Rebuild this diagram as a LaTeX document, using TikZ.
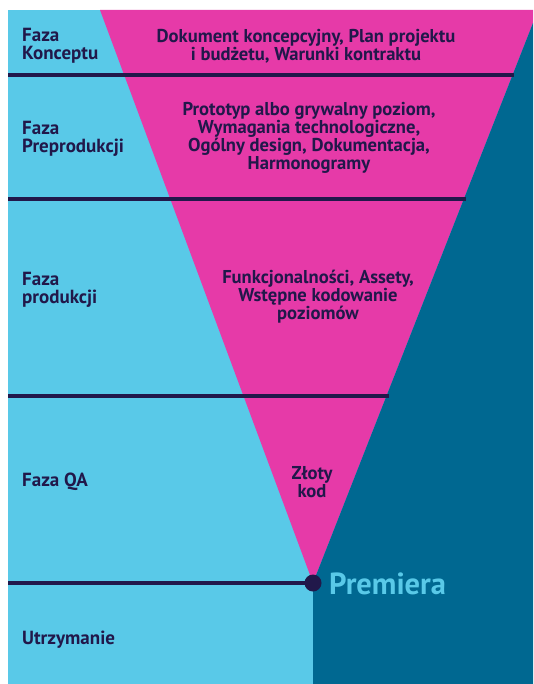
\documentclass[tikz,border=0pt]{standalone}
\usepackage{fontspec}
\setmainfont{PT Sans}
\begin{document}
\begin{tikzpicture}[x=1pt,y=-1pt,
  lbl/.style={font=\bfseries\fontsize{18.6}{18}\selectfont, text=navy, inner sep=0pt},
  leftlbl/.style={lbl, font=\bfseries\fontsize{19}{18.5}\selectfont, anchor=west, align=left},
  midlbl/.style={lbl, align=center},
  phaseline/.style={draw=navy, line width=4pt}]
\definecolor{skyb}{HTML}{59C9E8}
\definecolor{magenta}{HTML}{E63AA8}
\definecolor{teal}{HTML}{006891}
\definecolor{navy}{HTML}{21184A}
\useasboundingbox (0,0) rectangle (533,684);
% background panels
\fill[white] (0,0) rectangle (533,684);
\fill[skyb] (8,10) rectangle (533,684);
\fill[magenta] (100,10) -- (533,10) -- (533,23) -- (313,583) -- cycle;
\fill[teal] (313,583) -- (533,23) -- (533,684) -- (313,684) -- cycle;
% phase separators
\coordinate (l1) at (8,75);  \coordinate (r1) at (514,75);
\coordinate (l2) at (8,199); \coordinate (r2) at (466,199);
\coordinate (l3) at (8,396); \coordinate (r3) at (389,396);
\coordinate (l4) at (8,583);
\node[circle, fill=navy, minimum size=17pt, inner sep=0pt] (rel) at (313,583) {};
\draw[phaseline] (l1) -- (r1);
\draw[phaseline] (l2) -- (r2);
\draw[phaseline] (l3) -- (r3);
\draw[phaseline] (l4) -- (rel.center);
% phase names
\node[leftlbl] (p1) at (22,46) {Faza\\Konceptu};
\node[leftlbl] (p2) at (22,139) {Faza\\Preprodukcji};
\node[leftlbl] (p3) at (22,290) {Faza\\produkcji};
\node[leftlbl] (p4) at (22,482) {Faza QA};
\node[leftlbl] (p5) at (22,640) {Utrzymanie};
% deliverables
\node[midlbl] (d1) at (306,46) {Dokument koncepcyjny, Plan projektu\\i budżetu, Warunki kontraktu};
\node[midlbl] (d2) at (309,138) {Prototyp albo grywalny poziom,\\Wymagania technologiczne,\\Ogólny design, Dokumentacja,\\Harmonogramy};
\node[midlbl] (d3) at (318,297) {Funkcjonalności, Assety,\\Wstępne kodowanie\\poziomów};
\node[midlbl] (d4) at (312,482) {Złoty\\kod};
\node[font=\bfseries\fontsize{30.5}{30}\selectfont, text=skyb, anchor=west, inner sep=0pt] (prem) at (329,584) {Premiera};
\end{tikzpicture}
\end{document}
